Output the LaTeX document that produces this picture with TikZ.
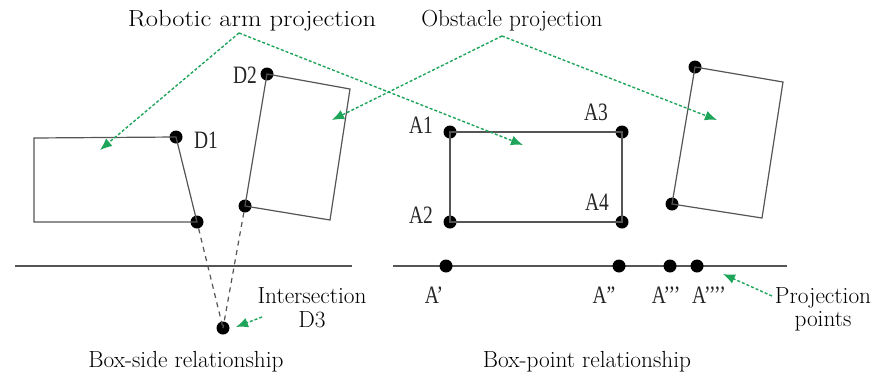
\documentclass[tikz,border=0pt]{standalone}
\usepackage{fontspec}
\newfontfamily\labfont[FakeStretch=0.78]{Liberation Serif}
\usetikzlibrary{arrows.meta}
\definecolor{ggreen}{RGB}{30,165,90}
\definecolor{lgray}{RGB}{85,85,85}
\tikzset{
  outl/.style={draw=lgray, line width=1.2pt, line join=miter},
  dot/.style={circle, fill=black, inner sep=0pt, minimum size=13pt},
  gline/.style={draw=ggreen, line width=1.4pt, dash pattern=on 3pt off 2pt},
  garrow/.style={gline, -{Latex[length=12pt,width=10pt]}, ggreen},
  proj/.style={draw=lgray, line width=1.2pt, dash pattern=on 5pt off 4.5pt},
  lab/.style={font=\labfont\fontsize{25}{27}\selectfont, inner sep=0pt, text=black!85},
  txt/.style={font=\fontsize{23.3}{25}\selectfont, inner sep=0pt, align=center},
}
\begin{document}
\begin{tikzpicture}[x=1pt,y=-1pt]
\useasboundingbox (0,0) rectangle (873,378);
% left robotic arm box
\coordinate (L1) at (34,138);
\coordinate (L4) at (34,222);
\node[dot] (D1) at (176,137) {};
\node[dot] (B1) at (197,222) {};
\draw[outl] (L1) -- (D1.center) -- (B1.center) -- (L4) -- cycle;
% left obstacle box
\node[dot] (D2) at (267,74) {};
\coordinate (O1) at (350,89);
\coordinate (O2) at (330,220);
\node[dot] (B2) at (245,206) {};
\draw[outl] (D2.center) -- (O1) -- (O2) -- (B2.center) -- cycle;
% intersection
\node[dot] (D3) at (223,328) {};
\draw[proj] (B1) -- (D3.center);
\draw[proj] (B2) -- (D3.center);
% left baseline
\coordinate (HL1) at (15,266);
\coordinate (HL2) at (352,266);
\draw[outl] (HL1) -- (HL2);
% labels left
\node[lab] (tD1) at (206,140) {D1};
\node[lab] (tD2) at (245,75) {D2};
\node[txt] (tint) at (312,296) {Intersection};
\node[txt] (tD3) at (312,320) {D3};
\coordinate (ia) at (262,317);
\coordinate (ib) at (236,327);
\draw[garrow] (ia) -- (ib);
\node[txt] (tbs) at (186,362) {Box-side relationship};

% right rectangle
\node[dot] (A1) at (450,132) {};
\node[dot] (A3) at (622,132) {};
\node[dot] (A2) at (450,222) {};
\node[dot] (A4) at (622,222) {};
\draw[outl] (A1.center) -- (A3.center) -- (A4.center) -- (A2.center) -- cycle;
\node[lab] (tA1) at (421,125) {A1};
\node[lab] (tA3) at (596,112) {A3};
\node[lab] (tA2) at (421,215) {A2};
\node[lab] (tA4) at (597,202) {A4};
% right obstacle
\node[dot] (R1) at (695,67) {};
\coordinate (R2) at (783,82);
\coordinate (R3) at (762,218);
\node[dot] (R4) at (672,204) {};
\draw[outl] (R1.center) -- (R2) -- (R3) -- (R4.center) -- cycle;
% right baseline
\coordinate (HR1) at (393,266);
\coordinate (HR2) at (787,266);
\draw[outl] (HR1) -- (HR2);
\node[dot] (P1) at (446,266) {};
\node[dot] (P2) at (619,266) {};
\node[dot] (P3) at (670,266) {};
\node[dot] (P4) at (697,266) {};
\node[lab] (tP1) at (434,295) {A’};
\node[lab] (tP2) at (604,295) {A”};
\node[lab] (tP3) at (666,295) {A’’’};
\node[lab] (tP4) at (709,295) {A’’’’};
\node[txt] (tpp1) at (823,298) {Projection};
\node[txt] (tpp2) at (823,321) {points};
\coordinate (pa) at (772,296);
\coordinate (pb) at (723,274);
\draw[garrow] (pa) -- (pb);
\node[txt] (tbp) at (587,362) {Box-point relationship};

% top labels and arrows
\node[txt] (trp) at (252,21) {\scalebox{1.14}[1]{Robotic arm projection}};
\coordinate (ap1) at (239,33);
\coordinate (ah1) at (100,150);
\coordinate (ah2) at (523,145);
\draw[garrow] (ap1) -- (ah1);
\draw[garrow] (ap1) -- (ah2);
\node[txt] (top) at (512,21) {Obstacle projection};
\coordinate (ap2) at (502,36);
\coordinate (ah3) at (332,120);
\coordinate (ah4) at (717,120);
\draw[garrow] (ap2) -- (ah3);
\draw[garrow] (ap2) -- (ah4);
\end{tikzpicture}
\end{document}
